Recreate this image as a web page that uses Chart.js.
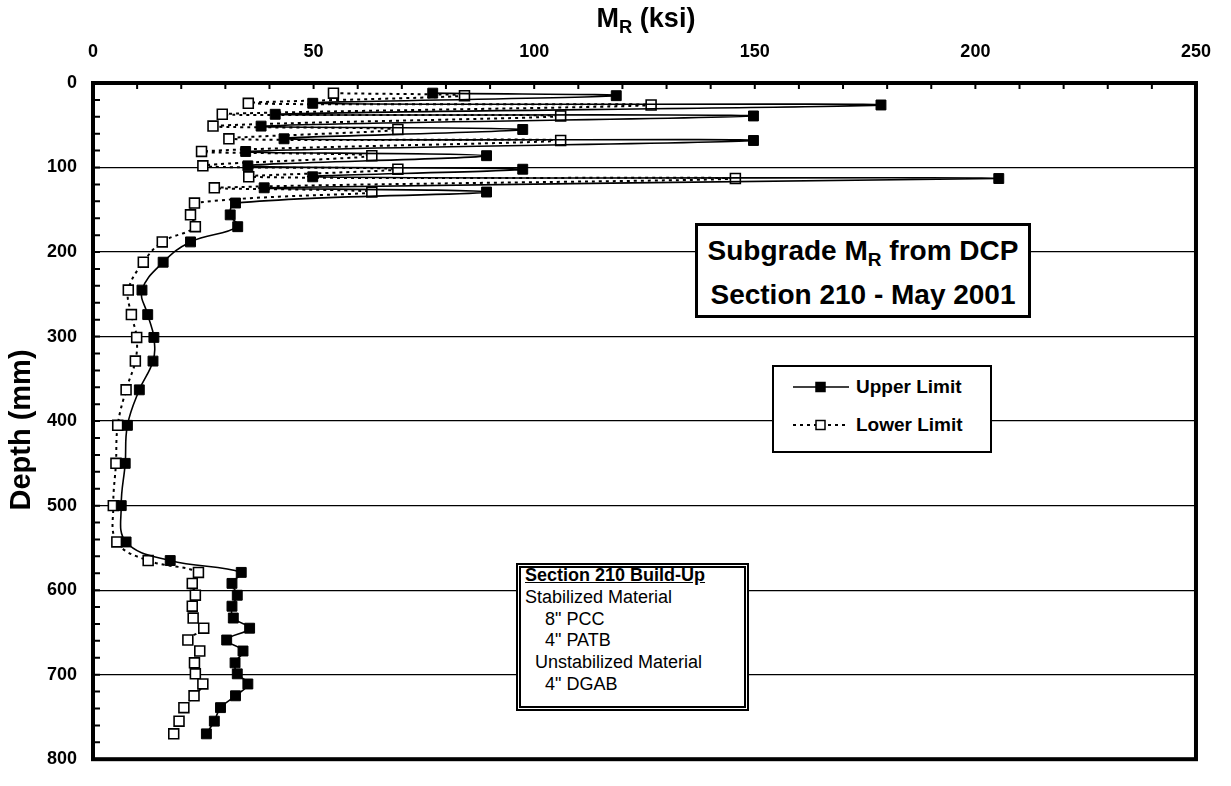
<!DOCTYPE html>
<html>
<head>
<meta charset="utf-8">
<title>Subgrade MR from DCP - Section 210</title>
<script src="https://cdn.jsdelivr.net/npm/chart.js@4.4.1/dist/chart.umd.min.js"></script>
<style>
  body { margin: 0; background: #fff; font-family: "Liberation Sans", Arial, sans-serif; color: #000; }
  #wrap { position: relative; width: 1231px; height: 786px; }
  #wrap canvas { position: absolute; left: 0; top: 0; }
  .ov { position: absolute; box-sizing: border-box; }
  .sub { font-size: 0.68em; position: relative; top: 0.32em; }

  #xTitle { left: 546px; width: 200px; top: 2px; text-align: center; font: bold 27px/32px "Liberation Sans", Arial, sans-serif; }
  #yTitle { left: 20px; top: 430px; width: 240px; margin-left: -120px; margin-top: -16px; text-align: center;
            font: bold 29px/32px "Liberation Sans", Arial, sans-serif; transform: rotate(-90deg); }

  #titleBox { left: 695px; top: 223px; width: 336px; height: 95px; background: #fff; border: 3px solid #000;
              padding-top: 4px; text-align: center; font: bold 28px/41px "Liberation Sans", Arial, sans-serif; }

  #legendBox { left: 772px; top: 365px; width: 220px; height: 88px; background: #fff; border: 2px solid #000; }
  #legendBox .row { position: absolute; left: 18px; height: 22px; display: flex; align-items: center; font: bold 19px "Liberation Sans", Arial, sans-serif; }
  #legendBox svg { margin-right: 6px; }

  #buildUp { left: 516px; top: 563px; width: 233px; height: 148px; background: #fff; border: 5px double #000; }
  #buildUp .inner { position: absolute; left: 4px; top: -3px; font: 18px/21.8px "Liberation Sans", Arial, sans-serif; white-space: pre; }
  #buildUp .head { font-weight: bold; text-decoration: underline; }
</style>
</head>
<body>
<div id="wrap">
  <canvas id="mrChart" width="1231" height="786"></canvas>
  <div class="ov" id="xTitle">M<span class="sub">R</span> (ksi)</div>
  <div class="ov" id="yTitle">Depth (mm)</div>
  <div class="ov" id="titleBox">Subgrade M<span class="sub">R</span> from DCP<br>Section 210 - May 2001</div>
  <div class="ov" id="legendBox"></div>
  <div class="ov" id="buildUp"><div class="inner"><span class="head">Section 210 Build-Up</span>
Stabilized Material
    8" PCC
    4" PATB
  Unstabilized Material
    4" DGAB</div></div>
</div>
<script>
// --- Data ---
const depthMm = [12, 15, 24, 26, 37, 39, 51, 55, 66, 68, 81, 86, 98, 102, 111, 113, 124, 129,
                 142, 156, 170, 188, 212, 245, 274, 301, 329, 363, 405, 450, 500, 543, 565, 579,
                 592, 606, 619, 633, 645, 659, 672, 686, 699, 711, 725, 739, 755, 770];
const upperKsi = [77.0, 118.6, 49.8, 178.6, 41.3, 149.7, 38.1, 97.4, 43.3, 149.7, 34.6, 89.2, 35.1, 97.4,
                  49.8, 205.3, 38.8, 89.2, 32.3, 31.1, 32.8, 22.1, 15.9, 11.1, 12.4, 13.8, 13.6, 10.5,
                  7.8, 7.3, 6.4, 7.5, 17.5, 33.6, 31.5, 32.7, 31.5, 31.8, 35.5, 30.3, 34.0, 32.2,
                  32.7, 35.1, 32.3, 28.9, 27.5, 25.7];
const lowerKsi = [54.5, 84.2, 35.2, 126.5, 29.3, 106.0, 27.2, 69.1, 30.8, 106.0, 24.6, 63.2, 24.9, 69.1,
                  35.3, 145.6, 27.5, 63.2, 23.0, 22.1, 23.2, 15.7, 11.4, 8.0, 8.7, 9.9, 9.6, 7.5,
                  5.6, 5.2, 4.6, 5.4, 12.5, 23.9, 22.5, 23.2, 22.5, 22.7, 25.1, 21.5, 24.2, 23.0,
                  23.2, 24.9, 22.9, 20.6, 19.5, 18.3];
const seriesNames = ['Upper Limit', 'Lower Limit'];
const xTickLabels = [0, 50, 100, 150, 200, 250];
const yTickLabels = [0, 100, 200, 300, 400, 500, 600, 700, 800];

const FONT = '"Liberation Sans", Arial, sans-serif';
Chart.defaults.font.family = FONT;
Chart.defaults.color = '#000';

const toPoints = (vals) => vals.map((v, i) => ({ x: v, y: depthMm[i] }));

// inward tick marks + heavy plot frame
const frameTicks = {
    id: 'frameTicks',
    afterDatasetsDraw(chart) {
        const { ctx, chartArea: a, scales } = chart;
        ctx.save();
        ctx.strokeStyle = '#000';
        ctx.lineWidth = 2;
        ctx.beginPath();
        scales.x.ticks.forEach(t => {
            if (t.value <= 0 || t.value >= 250) return;
            const px = scales.x.getPixelForValue(t.value);
            ctx.moveTo(px, a.top);
            ctx.lineTo(px, a.top + 6);
        });
        scales.y.ticks.forEach(t => {
            if (t.value <= 0 || t.value >= 800) return;
            const py = scales.y.getPixelForValue(t.value);
            ctx.moveTo(a.left, py);
            ctx.lineTo(a.left + 7, py);
        });
        ctx.stroke();
        ctx.lineWidth = 4;
        ctx.strokeRect(a.left, a.top, a.right - a.left, a.bottom - a.top);
        ctx.restore();
    }
};

const ctx = document.getElementById('mrChart').getContext('2d');
const myChart = new Chart(ctx, {
    type: 'scatter',
    data: {
        datasets: [
            {
                label: seriesNames[0],
                data: toPoints(upperKsi),
                showLine: true,
                borderColor: '#000',
                borderWidth: 1.6,
                tension: 0.4,
                pointStyle: 'rect',
                pointRadius: 7,
                pointBackgroundColor: '#000',
                pointBorderColor: '#000',
                pointBorderWidth: 1
            },
            {
                label: seriesNames[1],
                data: toPoints(lowerKsi),
                showLine: true,
                borderColor: '#000',
                borderWidth: 2,
                borderDash: [3, 4],
                tension: 0.4,
                pointStyle: 'rect',
                pointRadius: 7,
                pointBackgroundColor: '#fff',
                pointBorderColor: '#000',
                pointBorderWidth: 1.6
            }
        ]
    },
    options: {
        responsive: false,
        animation: false,
        devicePixelRatio: 1,
        layout: { padding: { left: 0, top: 0, right: 31, bottom: 9 } },
        plugins: {
            legend: { display: false },
            tooltip: { enabled: false }
        },
        scales: {
            x: {
                type: 'linear',
                position: 'top',
                min: 0,
                max: 250,
                grid: { display: false, drawTicks: false },
                border: { display: false },
                ticks: {
                    stepSize: 10,
                    autoSkip: false,
                    maxRotation: 0,
                    padding: 20,
                    color: '#000',
                    font: { size: 18, weight: 'bold' },
                    callback: v => xTickLabels.includes(v) ? v : ''
                },
                afterFit: s => { s.height = 83; }
            },
            y: {
                type: 'linear',
                reverse: true,
                min: 0,
                max: 800,
                grid: {
                    drawTicks: false,
                    lineWidth: 1.3,
                    color: c => (c.tick && c.tick.value > 0 && c.tick.value < 800 && c.tick.value % 100 === 0) ? '#000' : 'rgba(0,0,0,0)'
                },
                border: { display: false },
                ticks: {
                    stepSize: 20,
                    autoSkip: false,
                    padding: 16,
                    color: '#000',
                    font: { size: 18, weight: 'bold' },
                    callback: v => yTickLabels.includes(v) ? v : ''
                },
                afterFit: s => { s.width = 93; }
            }
        }
    },
    plugins: [frameTicks]
});

// legend built from the dataset styles
const legendBox = document.getElementById('legendBox');
myChart.data.datasets.forEach((ds, i) => {
    const row = document.createElement('div');
    row.className = 'row';
    row.style.top = (i === 0 ? 9 : 47) + 'px';
    const dash = ds.borderDash ? ds.borderDash.join(' ') : 'none';
    row.innerHTML =
        '<svg width="58" height="14">' +
        '<line x1="1" y1="7" x2="57" y2="7" stroke="#000" stroke-width="' + (ds.borderDash ? 2 : 1.6) + '" stroke-dasharray="' + dash + '"/>' +
        '<rect x="24" y="2.5" width="9" height="9" fill="' + ds.pointBackgroundColor + '" stroke="#000" stroke-width="1.5"/>' +
        '</svg><span>' + ds.label + '</span>';
    legendBox.appendChild(row);
});
</script>
</body>
</html>
